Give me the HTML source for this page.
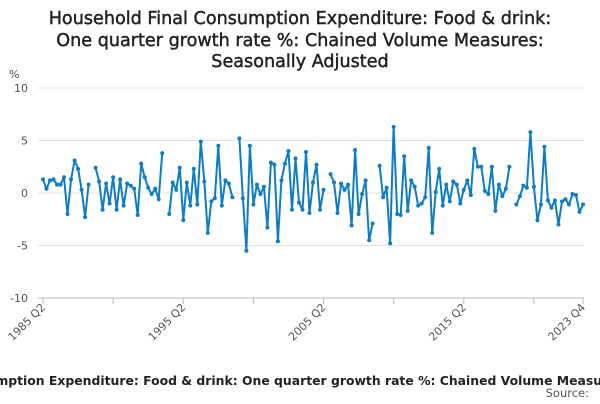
<!DOCTYPE html>
<html><head><meta charset="utf-8"><style>
body{margin:0;width:600px;height:400px;overflow:hidden;background:#fff;font-family:"DejaVu Sans",sans-serif;}
</style></head><body>
<svg width="600" height="400" style="font-family:'DejaVu Sans',sans-serif">
<g fill="#222" stroke="#222" stroke-width="0.45" font-size="17.6" text-anchor="middle">
<text x="300" y="24">Household Final Consumption Expenditure: Food &amp; drink:</text>
<text x="300" y="46">One quarter growth rate %: Chained Volume Measures:</text>
<text x="300" y="67">Seasonally Adjusted</text>
</g>
<text x="9" y="78" font-size="11" fill="#444">%</text>
<g id="grid"></g><g id="yt"></g><g id="xt"></g><g id="series"></g>
<text x="230" y="385" font-size="12.4" font-weight="bold" fill="#222" text-anchor="middle">Household Final Consumption Expenditure: Food &amp; drink: One quarter growth rate %: Chained Volume Measures</text>
<text x="589" y="397" font-size="11.5" fill="#555" text-anchor="end">Source:</text>
</svg>
<script>
const values=[1.3,0.4,1.2,1.3,0.8,0.8,1.5,-2.0,1.3,3.1,2.3,0.3,-2.3,0.8,null,
2.4,1.1,-1.6,0.9,-1.0,1.5,-1.6,1.3,-1.2,0.9,0.7,0.4,-2.1,2.8,1.5,0.5,-0.1,0.4,-0.6,3.8,null,
-2.0,1.0,0.3,2.4,-2.6,1.0,-1.2,2.3,-1.1,4.9,1.1,-3.8,-0.8,-0.5,4.5,-1.2,1.2,0.9,-0.4,null,
5.2,-0.5,-5.5,4.5,-1.1,0.8,-0.1,0.6,-3.3,2.9,2.7,-4.6,1.2,2.8,4.0,-1.6,3.3,-0.9,-1.6,3.9,-1.9,1.0,2.7,-1.6,0.3,null,
1.8,1.0,-1.9,0.9,0.3,0.8,-3.1,4.1,-2.0,-0.1,1.2,-4.5,-2.9,null,
2.6,-0.4,0.5,-4.8,6.3,-2.0,-2.1,3.5,-1.7,1.2,0.6,-1.2,-1.0,-0.4,4.3,-3.8,0.1,2.3,-1.2,0.8,-0.8,1.1,0.8,-1.0,0.3,1.2,-0.2,4.2,2.5,2.5,0.2,-0.1,2.5,-1.7,0.8,-0.3,0.4,2.5,null,
-1.1,-0.3,0.7,0.5,5.8,0.6,-2.6,-1.1,4.4,-0.7,-1.4,-0.7,-3.0,-0.8,-0.6,-1.1,-0.1,-0.2,-1.8,-1.1];
const yTicks=[10,5,0,-5,-10];
const xLabelIdx=[0,40,80,120,154];
const xLabels=["1985 Q2","1995 Q2","2005 Q2","2015 Q2","2023 Q4"];
const xMinorIdx=[20,60,100,140];
const NS="http://www.w3.org/2000/svg";
const X0=43,X1=583,Y0=193,K=10.5;
const xs=i=>X0+(X1-X0)*i/(values.length-1);
const ys=v=>Y0-v*K;
function mk(t,a,p){const e=document.createElementNS(NS,t);for(const k in a)e.setAttribute(k,a[k]);p.appendChild(e);return e;}
const grid=document.getElementById('grid'),yt=document.getElementById('yt'),xt=document.getElementById('xt'),ser=document.getElementById('series');
yTicks.forEach(v=>{
 const l=mk('line',{x1:38,x2:584,y1:ys(v),y2:ys(v),stroke:v===-10?'#bbb':'#e3e3e3','stroke-width':1},grid);
 
 
 const t=mk('text',{x:28,y:ys(v)+4,'font-size':11,fill:'#555','text-anchor':'end'},yt);
 t.textContent=v;
 
 
});
xMinorIdx.concat(xLabelIdx).forEach(i=>{
 const l=mk('line',{x1:xs(i),x2:xs(i),y1:298,y2:304,stroke:'#bbb'},xt);
 
 
});
xLabelIdx.forEach((i,k)=>{
 const t=mk('text',{x:xs(i)+3,y:308,'font-size':11,fill:'#555','text-anchor':'end',transform:`rotate(-45 ${xs(i)+3} 308)`},xt);
 t.textContent=xLabels[k];
 
 
});
let d='',pen=false;
values.forEach((v,i)=>{if(v===null){pen=false;return;}d+=(pen?'L':'M')+xs(i).toFixed(1)+' '+ys(v).toFixed(1);pen=true;});
const p=mk('path',{d:d,fill:'none',stroke:'#0f7dc2','stroke-width':2,'stroke-linejoin':'round'},ser);


values.forEach((v,i)=>{if(v===null)return;
 const c=mk('circle',{cx:xs(i),cy:ys(v),r:2,fill:'#0f7dc2'},ser);
 
 
});
</script>
</body></html>
